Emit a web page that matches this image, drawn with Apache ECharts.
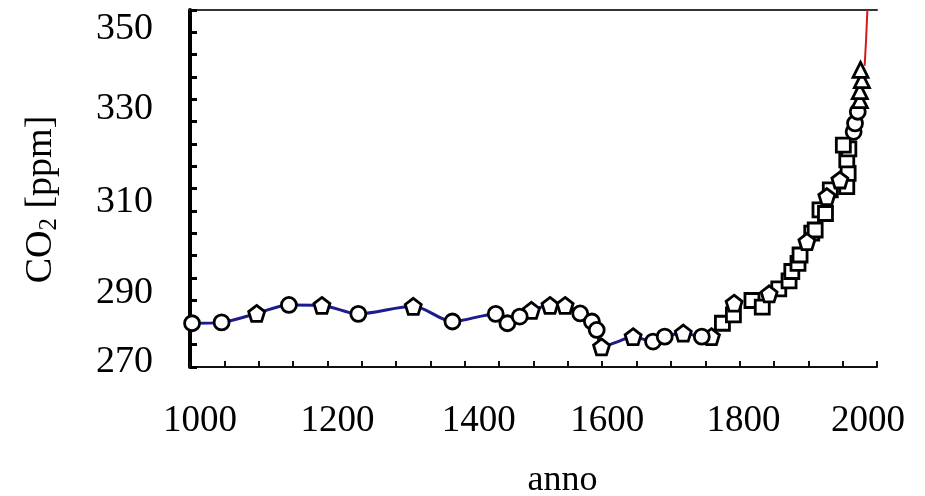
<!DOCTYPE html>
<html lang="it">
<head>
    <meta charset="UTF-8">
    <title>CO2 anno</title>
    <script src="https://cdn.jsdelivr.net/npm/echarts@6/dist/echarts.min.js"></script>
    <style>
        html, body { margin: 0; padding: 0; background: #fff; }
        #chart { width: 925px; height: 496px; }
    </style>
</head>
<body>
<div id="chart"></div>
<script>
    // valori: [anno, ppm]
    var lineaBlu = [
        [1003, 279.8], [1046, 280.0], [1097, 282.0], [1144, 283.9], [1192, 283.8],
        [1245, 281.9], [1325, 283.6], [1382, 280.2], [1445, 281.9], [1462, 279.8],
        [1480, 281.3], [1497, 282.7], [1524, 283.8], [1546, 283.8], [1568, 282.0],
        [1585, 280.2], [1592, 278.3], [1599, 274.5], [1623, 275.7], [1645, 276.8],
        [1674, 275.7], [1691, 276.8], [1718, 277.6], [1745, 276.8], [1759, 276.8]
    ];
    var cerchi = [
        [1003, 279.8], [1046, 280.0], [1144, 283.9], [1245, 281.9], [1382, 280.2],
        [1445, 281.9], [1462, 279.8], [1480, 281.3], [1568, 282.0], [1585, 280.2],
        [1592, 278.3], [1674, 275.7], [1691, 276.8], [1745, 276.8],
        [1966, 322.7], [1968, 324.6], [1972, 327.2]
    ];
    var pentagoni = [
        [1097, 282.0], [1192, 283.8], [1325, 283.6], [1497, 282.7], [1524, 283.8],
        [1546, 283.8], [1599, 274.5], [1645, 276.8], [1718, 277.6], [1759, 276.8],
        [1792, 284.3], [1843, 286.4], [1898, 298.1], [1927, 308.2], [1946, 311.9]
    ];
    var quadrati = [
        [1775, 279.8], [1791, 281.7], [1818, 284.9], [1833, 283.4], [1857, 287.5],
        [1872, 289.3], [1876, 291.4], [1885, 293.2], [1888, 295.1], [1905, 300.0],
        [1910, 300.7], [1917, 305.2], [1925, 304.4], [1932, 309.7], [1956, 310.4],
        [1958, 313.4], [1956, 316.4], [1959, 318.9], [1951, 319.7]
    ];
    var triangoli = [
        [1975, 329.8], [1975, 331.8], [1978, 334.3], [1976, 336.6]
    ];
    var lineaRossa = [
        [1982, 337.5], [1984, 343.0], [1986, 350.0]
    ];
    var etichetteY = [270, 290, 310, 330, 350];
    var etichetteX = [1000, 1200, 1400, 1600, 1800, 2000];

    var font = 'Liberation Serif';
    var pentagono = 'path://M0,-10L9.51,-3.09L5.88,8.09L-5.88,8.09L-9.51,-3.09Z';

    // le etichette dell'originale non sono proprio sulle tacche
    var stileY = {
        y350: { padding: [38, 0, 0, 0] },
        y330: { padding: [20, 0, 0, 0] },
        y310: { padding: [28, 0, 0, 0] },
        y290: { padding: [30, 0, 0, 0] },
        y270: { padding: [0, 0, 10, 0] }
    };
    var stileX = {
        x1000: { padding: [0, 0, 0, 20] },
        x1200: { padding: [0, 0, 0, 20] },
        x1400: { padding: [0, 0, 0, 28] },
        x1600: { padding: [0, 0, 0, 10] },
        x1800: { padding: [0, 0, 0, 8] },
        x2000: { padding: [0, 18, 0, 0] }
    };

    function marker(nome, simbolo, dati, size) {
        return {
            name: nome,
            type: 'scatter',
            symbol: simbolo,
            symbolSize: size,
            data: dati,
            z: 5,
            itemStyle: {
                color: '#fff',
                borderColor: '#000',
                borderWidth: 2.8,
                opacity: 1
            }
        };
    }

    var option = {
        backgroundColor: '#fff',
        animation: false,
        grid: {
            left: 190,
            right: 48,
            top: 10,
            bottom: 129,
            containLabel: false,
            outerBoundsMode: 'none'
        },
        xAxis: [{
            type: 'value',
            min: 1000,
            max: 2000,
            interval: 50,
            name: 'anno',
            nameLocation: 'middle',
            nameGap: 96,
            nameTextStyle: {
                fontFamily: font,
                fontSize: 36,
                color: '#000',
                padding: [0, 0, 0, 58]
            },
            splitLine: { show: false },
            axisLine: { lineStyle: { color: '#111', width: 2 } },
            axisTick: { inside: true, length: 6, lineStyle: { color: '#111', width: 2 } },
            axisLabel: {
                margin: 36,
                fontFamily: font,
                fontSize: 37,
                color: '#000',
                rich: stileX,
                formatter: function (v) {
                    return etichetteX.indexOf(v) >= 0 ? '{x' + v + '|' + v + '}' : '';
                }
            }
        }, {
            type: 'value',
            position: 'top',
            min: 1000,
            max: 2000,
            axisLine: { show: true, lineStyle: { color: '#333', width: 2 } },
            axisTick: { show: false },
            axisLabel: { show: false },
            splitLine: { show: false }
        }],
        yAxis: {
            type: 'value',
            min: 270,
            max: 350,
            interval: 5,
            name: 'CO{sub|2} [ppm]',
            nameLocation: 'middle',
            nameGap: 128,
            nameTextStyle: {
                fontFamily: font,
                fontSize: 38,
                color: '#000',
                padding: [0, 22, 0, 0],
                rich: {
                    sub: {
                        fontFamily: font,
                        fontSize: 25,
                        color: '#000',
                        verticalAlign: 'bottom',
                        padding: [16, 0, 0, 0]
                    }
                }
            },
            splitLine: { show: false },
            axisLine: { show: true, lineStyle: { color: '#000', width: 4 } },
            axisTick: { inside: true, length: 7, lineStyle: { color: '#000', width: 3 } },
            axisLabel: {
                margin: 37,
                fontFamily: font,
                fontSize: 38,
                color: '#000',
                rich: stileY,
                formatter: function (v) {
                    return etichetteY.indexOf(v) >= 0 ? '{y' + v + '|' + v + '}' : '';
                }
            }
        },
        series: [
            {
                name: 'linea',
                type: 'line',
                smooth: 0.3,
                showSymbol: false,
                data: lineaBlu,
                z: 2,
                lineStyle: { color: '#1c1c8c', width: 3 }
            },
            {
                name: 'rossa',
                type: 'line',
                showSymbol: false,
                data: lineaRossa,
                z: 2,
                lineStyle: { color: '#d41a1a', width: 2 }
            },
            marker('quadrati', 'rect', quadrati, 14),
            marker('pentagoni', pentagono, pentagoni, 16),
            marker('cerchi', 'circle', cerchi, 15),
            marker('triangoli', 'triangle', triangoli, 15)
        ]
    };

    var myChart = echarts.init(document.getElementById('chart'));
    myChart.setOption(option);
</script>
</body>
</html>
